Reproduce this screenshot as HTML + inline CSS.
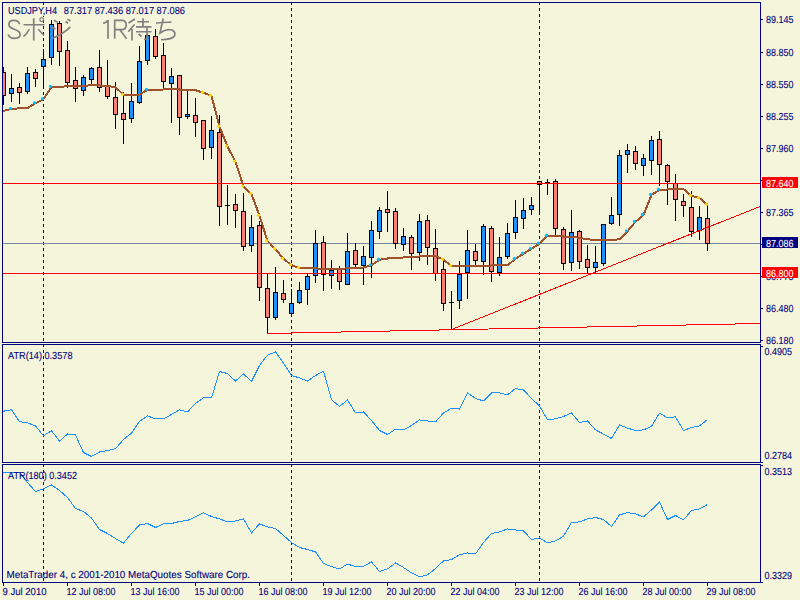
<!DOCTYPE html>
<html><head><meta charset="utf-8"><style>html,body{margin:0;padding:0;background:#F5F5DC;width:800px;height:600px;overflow:hidden}</style></head>
<body><svg width="800" height="600" viewBox="0 0 800 600" font-family="Liberation Sans, sans-serif" style="display:block">
<defs><clipPath id="cm"><rect x="3" y="3" width="757" height="339"/></clipPath><clipPath id="c2"><rect x="3" y="345" width="757" height="117"/></clipPath><clipPath id="c3"><rect x="3" y="465" width="757" height="117"/></clipPath></defs>
<rect x="0" y="0" width="800" height="600" fill="#F5F5DC"/>
<g shape-rendering="crispEdges">
<g fill="#000080"><rect x="43" y="2" width="1" height="3"/><rect x="43" y="8" width="1" height="3"/><rect x="43" y="14" width="1" height="3"/><rect x="43" y="20" width="1" height="3"/><rect x="43" y="26" width="1" height="3"/><rect x="43" y="32" width="1" height="3"/><rect x="43" y="38" width="1" height="3"/><rect x="43" y="44" width="1" height="3"/><rect x="43" y="50" width="1" height="3"/><rect x="43" y="56" width="1" height="3"/><rect x="43" y="62" width="1" height="3"/><rect x="43" y="68" width="1" height="3"/><rect x="43" y="74" width="1" height="3"/><rect x="43" y="80" width="1" height="3"/><rect x="43" y="86" width="1" height="3"/><rect x="43" y="92" width="1" height="3"/><rect x="43" y="98" width="1" height="3"/><rect x="43" y="104" width="1" height="3"/><rect x="43" y="110" width="1" height="3"/><rect x="43" y="116" width="1" height="3"/><rect x="43" y="122" width="1" height="3"/><rect x="43" y="128" width="1" height="3"/><rect x="43" y="134" width="1" height="3"/><rect x="43" y="140" width="1" height="3"/><rect x="43" y="146" width="1" height="3"/><rect x="43" y="152" width="1" height="3"/><rect x="43" y="158" width="1" height="3"/><rect x="43" y="164" width="1" height="3"/><rect x="43" y="170" width="1" height="3"/><rect x="43" y="176" width="1" height="3"/><rect x="43" y="182" width="1" height="3"/><rect x="43" y="188" width="1" height="3"/><rect x="43" y="194" width="1" height="3"/><rect x="43" y="200" width="1" height="3"/><rect x="43" y="206" width="1" height="3"/><rect x="43" y="212" width="1" height="3"/><rect x="43" y="218" width="1" height="3"/><rect x="43" y="224" width="1" height="3"/><rect x="43" y="230" width="1" height="3"/><rect x="43" y="236" width="1" height="3"/><rect x="43" y="242" width="1" height="3"/><rect x="43" y="248" width="1" height="3"/><rect x="43" y="254" width="1" height="3"/><rect x="43" y="260" width="1" height="3"/><rect x="43" y="266" width="1" height="3"/><rect x="43" y="272" width="1" height="3"/><rect x="43" y="278" width="1" height="3"/><rect x="43" y="284" width="1" height="3"/><rect x="43" y="290" width="1" height="3"/><rect x="43" y="296" width="1" height="3"/><rect x="43" y="302" width="1" height="3"/><rect x="43" y="308" width="1" height="3"/><rect x="43" y="314" width="1" height="3"/><rect x="43" y="320" width="1" height="3"/><rect x="43" y="326" width="1" height="3"/><rect x="43" y="332" width="1" height="3"/><rect x="43" y="338" width="1" height="3"/><rect x="43" y="344" width="1" height="3"/><rect x="43" y="350" width="1" height="3"/><rect x="43" y="356" width="1" height="3"/><rect x="43" y="362" width="1" height="3"/><rect x="43" y="368" width="1" height="3"/><rect x="43" y="374" width="1" height="3"/><rect x="43" y="380" width="1" height="3"/><rect x="43" y="386" width="1" height="3"/><rect x="43" y="392" width="1" height="3"/><rect x="43" y="398" width="1" height="3"/><rect x="43" y="404" width="1" height="3"/><rect x="43" y="410" width="1" height="3"/><rect x="43" y="416" width="1" height="3"/><rect x="43" y="422" width="1" height="3"/><rect x="43" y="428" width="1" height="3"/><rect x="43" y="434" width="1" height="3"/><rect x="43" y="440" width="1" height="3"/><rect x="43" y="446" width="1" height="3"/><rect x="43" y="452" width="1" height="3"/><rect x="43" y="458" width="1" height="3"/><rect x="43" y="464" width="1" height="3"/><rect x="43" y="470" width="1" height="3"/><rect x="43" y="476" width="1" height="3"/><rect x="43" y="482" width="1" height="3"/><rect x="43" y="488" width="1" height="3"/><rect x="43" y="494" width="1" height="3"/><rect x="43" y="500" width="1" height="3"/><rect x="43" y="506" width="1" height="3"/><rect x="43" y="512" width="1" height="3"/><rect x="43" y="518" width="1" height="3"/><rect x="43" y="524" width="1" height="3"/><rect x="43" y="530" width="1" height="3"/><rect x="43" y="536" width="1" height="3"/><rect x="43" y="542" width="1" height="3"/><rect x="43" y="548" width="1" height="3"/><rect x="43" y="554" width="1" height="3"/><rect x="43" y="560" width="1" height="3"/><rect x="43" y="566" width="1" height="3"/><rect x="43" y="572" width="1" height="3"/><rect x="43" y="578" width="1" height="3"/></g><g fill="#000080"><rect x="291" y="2" width="1" height="3"/><rect x="291" y="8" width="1" height="3"/><rect x="291" y="14" width="1" height="3"/><rect x="291" y="20" width="1" height="3"/><rect x="291" y="26" width="1" height="3"/><rect x="291" y="32" width="1" height="3"/><rect x="291" y="38" width="1" height="3"/><rect x="291" y="44" width="1" height="3"/><rect x="291" y="50" width="1" height="3"/><rect x="291" y="56" width="1" height="3"/><rect x="291" y="62" width="1" height="3"/><rect x="291" y="68" width="1" height="3"/><rect x="291" y="74" width="1" height="3"/><rect x="291" y="80" width="1" height="3"/><rect x="291" y="86" width="1" height="3"/><rect x="291" y="92" width="1" height="3"/><rect x="291" y="98" width="1" height="3"/><rect x="291" y="104" width="1" height="3"/><rect x="291" y="110" width="1" height="3"/><rect x="291" y="116" width="1" height="3"/><rect x="291" y="122" width="1" height="3"/><rect x="291" y="128" width="1" height="3"/><rect x="291" y="134" width="1" height="3"/><rect x="291" y="140" width="1" height="3"/><rect x="291" y="146" width="1" height="3"/><rect x="291" y="152" width="1" height="3"/><rect x="291" y="158" width="1" height="3"/><rect x="291" y="164" width="1" height="3"/><rect x="291" y="170" width="1" height="3"/><rect x="291" y="176" width="1" height="3"/><rect x="291" y="182" width="1" height="3"/><rect x="291" y="188" width="1" height="3"/><rect x="291" y="194" width="1" height="3"/><rect x="291" y="200" width="1" height="3"/><rect x="291" y="206" width="1" height="3"/><rect x="291" y="212" width="1" height="3"/><rect x="291" y="218" width="1" height="3"/><rect x="291" y="224" width="1" height="3"/><rect x="291" y="230" width="1" height="3"/><rect x="291" y="236" width="1" height="3"/><rect x="291" y="242" width="1" height="3"/><rect x="291" y="248" width="1" height="3"/><rect x="291" y="254" width="1" height="3"/><rect x="291" y="260" width="1" height="3"/><rect x="291" y="266" width="1" height="3"/><rect x="291" y="272" width="1" height="3"/><rect x="291" y="278" width="1" height="3"/><rect x="291" y="284" width="1" height="3"/><rect x="291" y="290" width="1" height="3"/><rect x="291" y="296" width="1" height="3"/><rect x="291" y="302" width="1" height="3"/><rect x="291" y="308" width="1" height="3"/><rect x="291" y="314" width="1" height="3"/><rect x="291" y="320" width="1" height="3"/><rect x="291" y="326" width="1" height="3"/><rect x="291" y="332" width="1" height="3"/><rect x="291" y="338" width="1" height="3"/><rect x="291" y="344" width="1" height="3"/><rect x="291" y="350" width="1" height="3"/><rect x="291" y="356" width="1" height="3"/><rect x="291" y="362" width="1" height="3"/><rect x="291" y="368" width="1" height="3"/><rect x="291" y="374" width="1" height="3"/><rect x="291" y="380" width="1" height="3"/><rect x="291" y="386" width="1" height="3"/><rect x="291" y="392" width="1" height="3"/><rect x="291" y="398" width="1" height="3"/><rect x="291" y="404" width="1" height="3"/><rect x="291" y="410" width="1" height="3"/><rect x="291" y="416" width="1" height="3"/><rect x="291" y="422" width="1" height="3"/><rect x="291" y="428" width="1" height="3"/><rect x="291" y="434" width="1" height="3"/><rect x="291" y="440" width="1" height="3"/><rect x="291" y="446" width="1" height="3"/><rect x="291" y="452" width="1" height="3"/><rect x="291" y="458" width="1" height="3"/><rect x="291" y="464" width="1" height="3"/><rect x="291" y="470" width="1" height="3"/><rect x="291" y="476" width="1" height="3"/><rect x="291" y="482" width="1" height="3"/><rect x="291" y="488" width="1" height="3"/><rect x="291" y="494" width="1" height="3"/><rect x="291" y="500" width="1" height="3"/><rect x="291" y="506" width="1" height="3"/><rect x="291" y="512" width="1" height="3"/><rect x="291" y="518" width="1" height="3"/><rect x="291" y="524" width="1" height="3"/><rect x="291" y="530" width="1" height="3"/><rect x="291" y="536" width="1" height="3"/><rect x="291" y="542" width="1" height="3"/><rect x="291" y="548" width="1" height="3"/><rect x="291" y="554" width="1" height="3"/><rect x="291" y="560" width="1" height="3"/><rect x="291" y="566" width="1" height="3"/><rect x="291" y="572" width="1" height="3"/><rect x="291" y="578" width="1" height="3"/></g><g fill="#000080"><rect x="539" y="2" width="1" height="3"/><rect x="539" y="8" width="1" height="3"/><rect x="539" y="14" width="1" height="3"/><rect x="539" y="20" width="1" height="3"/><rect x="539" y="26" width="1" height="3"/><rect x="539" y="32" width="1" height="3"/><rect x="539" y="38" width="1" height="3"/><rect x="539" y="44" width="1" height="3"/><rect x="539" y="50" width="1" height="3"/><rect x="539" y="56" width="1" height="3"/><rect x="539" y="62" width="1" height="3"/><rect x="539" y="68" width="1" height="3"/><rect x="539" y="74" width="1" height="3"/><rect x="539" y="80" width="1" height="3"/><rect x="539" y="86" width="1" height="3"/><rect x="539" y="92" width="1" height="3"/><rect x="539" y="98" width="1" height="3"/><rect x="539" y="104" width="1" height="3"/><rect x="539" y="110" width="1" height="3"/><rect x="539" y="116" width="1" height="3"/><rect x="539" y="122" width="1" height="3"/><rect x="539" y="128" width="1" height="3"/><rect x="539" y="134" width="1" height="3"/><rect x="539" y="140" width="1" height="3"/><rect x="539" y="146" width="1" height="3"/><rect x="539" y="152" width="1" height="3"/><rect x="539" y="158" width="1" height="3"/><rect x="539" y="164" width="1" height="3"/><rect x="539" y="170" width="1" height="3"/><rect x="539" y="176" width="1" height="3"/><rect x="539" y="182" width="1" height="3"/><rect x="539" y="188" width="1" height="3"/><rect x="539" y="194" width="1" height="3"/><rect x="539" y="200" width="1" height="3"/><rect x="539" y="206" width="1" height="3"/><rect x="539" y="212" width="1" height="3"/><rect x="539" y="218" width="1" height="3"/><rect x="539" y="224" width="1" height="3"/><rect x="539" y="230" width="1" height="3"/><rect x="539" y="236" width="1" height="3"/><rect x="539" y="242" width="1" height="3"/><rect x="539" y="248" width="1" height="3"/><rect x="539" y="254" width="1" height="3"/><rect x="539" y="260" width="1" height="3"/><rect x="539" y="266" width="1" height="3"/><rect x="539" y="272" width="1" height="3"/><rect x="539" y="278" width="1" height="3"/><rect x="539" y="284" width="1" height="3"/><rect x="539" y="290" width="1" height="3"/><rect x="539" y="296" width="1" height="3"/><rect x="539" y="302" width="1" height="3"/><rect x="539" y="308" width="1" height="3"/><rect x="539" y="314" width="1" height="3"/><rect x="539" y="320" width="1" height="3"/><rect x="539" y="326" width="1" height="3"/><rect x="539" y="332" width="1" height="3"/><rect x="539" y="338" width="1" height="3"/><rect x="539" y="344" width="1" height="3"/><rect x="539" y="350" width="1" height="3"/><rect x="539" y="356" width="1" height="3"/><rect x="539" y="362" width="1" height="3"/><rect x="539" y="368" width="1" height="3"/><rect x="539" y="374" width="1" height="3"/><rect x="539" y="380" width="1" height="3"/><rect x="539" y="386" width="1" height="3"/><rect x="539" y="392" width="1" height="3"/><rect x="539" y="398" width="1" height="3"/><rect x="539" y="404" width="1" height="3"/><rect x="539" y="410" width="1" height="3"/><rect x="539" y="416" width="1" height="3"/><rect x="539" y="422" width="1" height="3"/><rect x="539" y="428" width="1" height="3"/><rect x="539" y="434" width="1" height="3"/><rect x="539" y="440" width="1" height="3"/><rect x="539" y="446" width="1" height="3"/><rect x="539" y="452" width="1" height="3"/><rect x="539" y="458" width="1" height="3"/><rect x="539" y="464" width="1" height="3"/><rect x="539" y="470" width="1" height="3"/><rect x="539" y="476" width="1" height="3"/><rect x="539" y="482" width="1" height="3"/><rect x="539" y="488" width="1" height="3"/><rect x="539" y="494" width="1" height="3"/><rect x="539" y="500" width="1" height="3"/><rect x="539" y="506" width="1" height="3"/><rect x="539" y="512" width="1" height="3"/><rect x="539" y="518" width="1" height="3"/><rect x="539" y="524" width="1" height="3"/><rect x="539" y="530" width="1" height="3"/><rect x="539" y="536" width="1" height="3"/><rect x="539" y="542" width="1" height="3"/><rect x="539" y="548" width="1" height="3"/><rect x="539" y="554" width="1" height="3"/><rect x="539" y="560" width="1" height="3"/><rect x="539" y="566" width="1" height="3"/><rect x="539" y="572" width="1" height="3"/><rect x="539" y="578" width="1" height="3"/></g>
</g>
<g shape-rendering="crispEdges" clip-path="url(#cm)">
<rect x="3" y="243" width="757" height="1" fill="#778899"/>
<rect x="3" y="67" width="1" height="38" fill="#000"/><rect x="1" y="72" width="5" height="24" fill="#000"/><rect x="2" y="73" width="3" height="22" fill="#FA8072"/><rect x="11" y="74" width="1" height="28" fill="#000"/><rect x="9" y="88" width="5" height="6" fill="#000"/><rect x="10" y="89" width="3" height="4" fill="#1E90FF"/><rect x="19" y="83" width="1" height="21" fill="#000"/><rect x="17" y="87" width="5" height="6" fill="#000"/><rect x="18" y="88" width="3" height="4" fill="#FA8072"/><rect x="27" y="67" width="1" height="27" fill="#000"/><rect x="25" y="73" width="5" height="19" fill="#000"/><rect x="26" y="74" width="3" height="17" fill="#1E90FF"/><rect x="35" y="69" width="1" height="18" fill="#000"/><rect x="33" y="72" width="5" height="7" fill="#000"/><rect x="34" y="73" width="3" height="5" fill="#FA8072"/><rect x="43" y="49" width="1" height="40" fill="#000"/><rect x="41" y="59" width="5" height="8" fill="#000"/><rect x="42" y="60" width="3" height="6" fill="#1E90FF"/><rect x="51" y="20" width="1" height="45" fill="#000"/><rect x="49" y="24" width="5" height="34" fill="#000"/><rect x="50" y="25" width="3" height="32" fill="#1E90FF"/><rect x="59" y="21" width="1" height="45" fill="#000"/><rect x="57" y="23" width="5" height="29" fill="#000"/><rect x="58" y="24" width="3" height="27" fill="#FA8072"/><rect x="67" y="41" width="1" height="47" fill="#000"/><rect x="65" y="50" width="5" height="33" fill="#000"/><rect x="66" y="51" width="3" height="31" fill="#FA8072"/><rect x="75" y="67" width="1" height="35" fill="#000"/><rect x="73" y="80" width="5" height="9" fill="#000"/><rect x="74" y="81" width="3" height="7" fill="#FA8072"/><rect x="83" y="75" width="1" height="21" fill="#000"/><rect x="81" y="77" width="5" height="14" fill="#000"/><rect x="82" y="78" width="3" height="12" fill="#1E90FF"/><rect x="91" y="67" width="1" height="17" fill="#000"/><rect x="89" y="68" width="5" height="12" fill="#000"/><rect x="90" y="69" width="3" height="10" fill="#1E90FF"/><rect x="99" y="50" width="1" height="42" fill="#000"/><rect x="97" y="67" width="5" height="21" fill="#000"/><rect x="98" y="68" width="3" height="19" fill="#FA8072"/><rect x="107" y="60" width="1" height="39" fill="#000"/><rect x="105" y="86" width="5" height="11" fill="#000"/><rect x="106" y="87" width="3" height="9" fill="#FA8072"/><rect x="115" y="82" width="1" height="47" fill="#000"/><rect x="113" y="97" width="5" height="18" fill="#000"/><rect x="114" y="98" width="3" height="16" fill="#FA8072"/><rect x="123" y="92" width="1" height="52" fill="#000"/><rect x="121" y="113" width="5" height="7" fill="#000"/><rect x="122" y="114" width="3" height="5" fill="#FA8072"/><rect x="131" y="83" width="1" height="40" fill="#000"/><rect x="129" y="101" width="5" height="18" fill="#000"/><rect x="130" y="102" width="3" height="16" fill="#1E90FF"/><rect x="139" y="46" width="1" height="58" fill="#000"/><rect x="137" y="61" width="5" height="42" fill="#000"/><rect x="138" y="62" width="3" height="40" fill="#1E90FF"/><rect x="147" y="34" width="1" height="31" fill="#000"/><rect x="145" y="35" width="5" height="26" fill="#000"/><rect x="146" y="36" width="3" height="24" fill="#1E90FF"/><rect x="155" y="29" width="1" height="30" fill="#000"/><rect x="153" y="36" width="5" height="21" fill="#000"/><rect x="154" y="37" width="3" height="19" fill="#FA8072"/><rect x="163" y="43" width="1" height="45" fill="#000"/><rect x="161" y="55" width="5" height="27" fill="#000"/><rect x="162" y="56" width="3" height="25" fill="#FA8072"/><rect x="171" y="68" width="1" height="55" fill="#000"/><rect x="169" y="76" width="5" height="8" fill="#000"/><rect x="170" y="77" width="3" height="6" fill="#1E90FF"/><rect x="179" y="75" width="1" height="60" fill="#000"/><rect x="177" y="75" width="5" height="43" fill="#000"/><rect x="178" y="76" width="3" height="41" fill="#FA8072"/><rect x="187" y="91" width="1" height="28" fill="#000"/><rect x="185" y="114" width="5" height="3" fill="#000"/><rect x="186" y="115" width="3" height="1" fill="#1E90FF"/><rect x="195" y="98" width="1" height="39" fill="#000"/><rect x="193" y="115" width="5" height="8" fill="#000"/><rect x="194" y="116" width="3" height="6" fill="#FA8072"/><rect x="203" y="120" width="1" height="40" fill="#000"/><rect x="201" y="120" width="5" height="29" fill="#000"/><rect x="202" y="121" width="3" height="27" fill="#FA8072"/><rect x="211" y="116" width="1" height="43" fill="#000"/><rect x="209" y="130" width="5" height="18" fill="#000"/><rect x="210" y="131" width="3" height="16" fill="#1E90FF"/><rect x="219" y="115" width="1" height="111" fill="#000"/><rect x="217" y="132" width="5" height="75" fill="#000"/><rect x="218" y="133" width="3" height="73" fill="#FA8072"/><rect x="227" y="185" width="1" height="40" fill="#000"/><rect x="225" y="205" width="5" height="1" fill="#000"/><rect x="235" y="194" width="1" height="34" fill="#000"/><rect x="233" y="204" width="5" height="7" fill="#000"/><rect x="234" y="205" width="3" height="5" fill="#FA8072"/><rect x="243" y="193" width="1" height="58" fill="#000"/><rect x="241" y="211" width="5" height="36" fill="#000"/><rect x="242" y="212" width="3" height="34" fill="#FA8072"/><rect x="251" y="215" width="1" height="37" fill="#000"/><rect x="249" y="227" width="5" height="19" fill="#000"/><rect x="250" y="228" width="3" height="17" fill="#1E90FF"/><rect x="259" y="221" width="1" height="80" fill="#000"/><rect x="257" y="225" width="5" height="63" fill="#000"/><rect x="258" y="226" width="3" height="61" fill="#FA8072"/><rect x="267" y="274" width="1" height="60" fill="#000"/><rect x="265" y="288" width="5" height="30" fill="#000"/><rect x="266" y="289" width="3" height="28" fill="#FA8072"/><rect x="275" y="267" width="1" height="53" fill="#000"/><rect x="273" y="292" width="5" height="26" fill="#000"/><rect x="274" y="293" width="3" height="24" fill="#1E90FF"/><rect x="283" y="280" width="1" height="23" fill="#000"/><rect x="281" y="293" width="5" height="7" fill="#000"/><rect x="282" y="294" width="3" height="5" fill="#FA8072"/><rect x="291" y="289" width="1" height="26" fill="#000"/><rect x="289" y="303" width="5" height="11" fill="#000"/><rect x="290" y="304" width="3" height="9" fill="#1E90FF"/><rect x="299" y="282" width="1" height="22" fill="#000"/><rect x="297" y="290" width="5" height="13" fill="#000"/><rect x="298" y="291" width="3" height="11" fill="#1E90FF"/><rect x="307" y="274" width="1" height="31" fill="#000"/><rect x="305" y="276" width="5" height="14" fill="#000"/><rect x="306" y="277" width="3" height="12" fill="#1E90FF"/><rect x="315" y="230" width="1" height="53" fill="#000"/><rect x="313" y="243" width="5" height="33" fill="#000"/><rect x="314" y="244" width="3" height="31" fill="#1E90FF"/><rect x="323" y="236" width="1" height="55" fill="#000"/><rect x="321" y="242" width="5" height="33" fill="#000"/><rect x="322" y="243" width="3" height="31" fill="#FA8072"/><rect x="331" y="260" width="1" height="29" fill="#000"/><rect x="329" y="270" width="5" height="6" fill="#000"/><rect x="330" y="271" width="3" height="4" fill="#1E90FF"/><rect x="339" y="266" width="1" height="24" fill="#000"/><rect x="337" y="269" width="5" height="13" fill="#000"/><rect x="338" y="270" width="3" height="11" fill="#FA8072"/><rect x="347" y="233" width="1" height="52" fill="#000"/><rect x="345" y="251" width="5" height="34" fill="#000"/><rect x="346" y="252" width="3" height="32" fill="#1E90FF"/><rect x="355" y="243" width="1" height="24" fill="#000"/><rect x="353" y="250" width="5" height="15" fill="#000"/><rect x="354" y="251" width="3" height="13" fill="#FA8072"/><rect x="363" y="246" width="1" height="39" fill="#000"/><rect x="361" y="256" width="5" height="10" fill="#000"/><rect x="362" y="257" width="3" height="8" fill="#1E90FF"/><rect x="371" y="221" width="1" height="57" fill="#000"/><rect x="369" y="230" width="5" height="28" fill="#000"/><rect x="370" y="231" width="3" height="26" fill="#1E90FF"/><rect x="379" y="207" width="1" height="32" fill="#000"/><rect x="377" y="210" width="5" height="22" fill="#000"/><rect x="378" y="211" width="3" height="20" fill="#1E90FF"/><rect x="387" y="191" width="1" height="41" fill="#000"/><rect x="385" y="209" width="5" height="4" fill="#000"/><rect x="386" y="210" width="3" height="2" fill="#FA8072"/><rect x="395" y="208" width="1" height="41" fill="#000"/><rect x="393" y="211" width="5" height="33" fill="#000"/><rect x="394" y="212" width="3" height="31" fill="#FA8072"/><rect x="403" y="228" width="1" height="23" fill="#000"/><rect x="401" y="236" width="5" height="9" fill="#000"/><rect x="402" y="237" width="3" height="7" fill="#1E90FF"/><rect x="411" y="235" width="1" height="35" fill="#000"/><rect x="409" y="237" width="5" height="17" fill="#000"/><rect x="410" y="238" width="3" height="15" fill="#FA8072"/><rect x="419" y="214" width="1" height="47" fill="#000"/><rect x="417" y="221" width="5" height="32" fill="#000"/><rect x="418" y="222" width="3" height="30" fill="#1E90FF"/><rect x="427" y="215" width="1" height="50" fill="#000"/><rect x="425" y="220" width="5" height="28" fill="#000"/><rect x="426" y="221" width="3" height="26" fill="#FA8072"/><rect x="435" y="229" width="1" height="52" fill="#000"/><rect x="433" y="248" width="5" height="26" fill="#000"/><rect x="434" y="249" width="3" height="24" fill="#FA8072"/><rect x="443" y="258" width="1" height="53" fill="#000"/><rect x="441" y="269" width="5" height="35" fill="#000"/><rect x="442" y="270" width="3" height="33" fill="#FA8072"/><rect x="451" y="291" width="1" height="39" fill="#000"/><rect x="449" y="302" width="5" height="1" fill="#000"/><rect x="459" y="261" width="1" height="48" fill="#000"/><rect x="457" y="274" width="5" height="27" fill="#000"/><rect x="458" y="275" width="3" height="25" fill="#1E90FF"/><rect x="467" y="230" width="1" height="69" fill="#000"/><rect x="465" y="250" width="5" height="23" fill="#000"/><rect x="466" y="251" width="3" height="21" fill="#1E90FF"/><rect x="475" y="244" width="1" height="21" fill="#000"/><rect x="473" y="251" width="5" height="10" fill="#000"/><rect x="474" y="252" width="3" height="8" fill="#FA8072"/><rect x="483" y="224" width="1" height="51" fill="#000"/><rect x="481" y="226" width="5" height="36" fill="#000"/><rect x="482" y="227" width="3" height="34" fill="#1E90FF"/><rect x="491" y="226" width="1" height="56" fill="#000"/><rect x="489" y="228" width="5" height="44" fill="#000"/><rect x="490" y="229" width="3" height="42" fill="#FA8072"/><rect x="499" y="237" width="1" height="39" fill="#000"/><rect x="497" y="257" width="5" height="16" fill="#000"/><rect x="498" y="258" width="3" height="14" fill="#1E90FF"/><rect x="507" y="223" width="1" height="36" fill="#000"/><rect x="505" y="233" width="5" height="24" fill="#000"/><rect x="506" y="234" width="3" height="22" fill="#1E90FF"/><rect x="515" y="200" width="1" height="39" fill="#000"/><rect x="513" y="217" width="5" height="16" fill="#000"/><rect x="514" y="218" width="3" height="14" fill="#1E90FF"/><rect x="523" y="198" width="1" height="31" fill="#000"/><rect x="521" y="210" width="5" height="9" fill="#000"/><rect x="522" y="211" width="3" height="7" fill="#1E90FF"/><rect x="531" y="197" width="1" height="18" fill="#000"/><rect x="529" y="205" width="5" height="5" fill="#000"/><rect x="530" y="206" width="3" height="3" fill="#1E90FF"/><rect x="539" y="181" width="1" height="32" fill="#000"/><rect x="537" y="181" width="5" height="4" fill="#000"/><rect x="538" y="182" width="3" height="2" fill="#FA8072"/><rect x="547" y="179" width="1" height="16" fill="#000"/><rect x="545" y="182" width="5" height="1" fill="#000"/><rect x="555" y="179" width="1" height="56" fill="#000"/><rect x="553" y="181" width="5" height="48" fill="#000"/><rect x="554" y="182" width="3" height="46" fill="#FA8072"/><rect x="563" y="227" width="1" height="43" fill="#000"/><rect x="561" y="229" width="5" height="35" fill="#000"/><rect x="562" y="230" width="3" height="33" fill="#FA8072"/><rect x="571" y="210" width="1" height="61" fill="#000"/><rect x="569" y="232" width="5" height="31" fill="#000"/><rect x="570" y="233" width="3" height="29" fill="#1E90FF"/><rect x="579" y="230" width="1" height="39" fill="#000"/><rect x="577" y="231" width="5" height="31" fill="#000"/><rect x="578" y="232" width="3" height="29" fill="#FA8072"/><rect x="587" y="245" width="1" height="29" fill="#000"/><rect x="585" y="259" width="5" height="9" fill="#000"/><rect x="586" y="260" width="3" height="7" fill="#FA8072"/><rect x="595" y="246" width="1" height="27" fill="#000"/><rect x="593" y="262" width="5" height="6" fill="#000"/><rect x="594" y="263" width="3" height="4" fill="#1E90FF"/><rect x="603" y="224" width="1" height="42" fill="#000"/><rect x="601" y="224" width="5" height="40" fill="#000"/><rect x="602" y="225" width="3" height="38" fill="#1E90FF"/><rect x="611" y="197" width="1" height="28" fill="#000"/><rect x="609" y="215" width="5" height="9" fill="#000"/><rect x="610" y="216" width="3" height="7" fill="#1E90FF"/><rect x="619" y="150" width="1" height="76" fill="#000"/><rect x="617" y="155" width="5" height="60" fill="#000"/><rect x="618" y="156" width="3" height="58" fill="#1E90FF"/><rect x="627" y="144" width="1" height="29" fill="#000"/><rect x="625" y="150" width="5" height="5" fill="#000"/><rect x="626" y="151" width="3" height="3" fill="#1E90FF"/><rect x="635" y="146" width="1" height="24" fill="#000"/><rect x="633" y="151" width="5" height="13" fill="#000"/><rect x="634" y="152" width="3" height="11" fill="#FA8072"/><rect x="643" y="154" width="1" height="22" fill="#000"/><rect x="641" y="158" width="5" height="8" fill="#000"/><rect x="642" y="159" width="3" height="6" fill="#1E90FF"/><rect x="651" y="136" width="1" height="39" fill="#000"/><rect x="649" y="140" width="5" height="21" fill="#000"/><rect x="650" y="141" width="3" height="19" fill="#1E90FF"/><rect x="659" y="131" width="1" height="55" fill="#000"/><rect x="657" y="139" width="5" height="26" fill="#000"/><rect x="658" y="140" width="3" height="24" fill="#FA8072"/><rect x="667" y="164" width="1" height="41" fill="#000"/><rect x="665" y="165" width="5" height="17" fill="#000"/><rect x="666" y="166" width="3" height="15" fill="#FA8072"/><rect x="675" y="174" width="1" height="47" fill="#000"/><rect x="673" y="183" width="5" height="17" fill="#000"/><rect x="674" y="184" width="3" height="15" fill="#FA8072"/><rect x="683" y="194" width="1" height="23" fill="#000"/><rect x="681" y="201" width="5" height="5" fill="#000"/><rect x="682" y="202" width="3" height="3" fill="#FA8072"/><rect x="691" y="191" width="1" height="46" fill="#000"/><rect x="689" y="207" width="5" height="25" fill="#000"/><rect x="690" y="208" width="3" height="23" fill="#FA8072"/><rect x="699" y="206" width="1" height="34" fill="#000"/><rect x="697" y="217" width="5" height="14" fill="#000"/><rect x="698" y="218" width="3" height="12" fill="#1E90FF"/><rect x="707" y="205" width="1" height="46" fill="#000"/><rect x="705" y="218" width="5" height="26" fill="#000"/><rect x="706" y="219" width="3" height="24" fill="#FA8072"/>
<rect x="3" y="183" width="757" height="1" fill="#FF0000"/>
<rect x="3" y="273" width="757" height="1" fill="#FF0000"/>
<path d="M267.5 333.5 L760 323.5 M451.5 329.5 L760 206.5" stroke="#FF0000" stroke-width="1" fill="none"/>
<polyline points="2.5,111.5 3.5,111.0 11.5,108.8 19.5,108.4 27.5,108.2 35.5,103.2 43.5,99.2 51.5,86.8 59.5,86.8 67.5,86.3 75.5,86.1 83.5,86.0 91.5,85.2 99.5,85.5 107.5,86.0 115.5,87.2 123.5,94.8 131.5,95.0 139.5,94.8 147.5,89.8 155.5,90.0 163.5,89.5 171.5,89.2 179.5,89.5 187.5,89.5 195.5,90.2 203.5,92.8 211.5,95.8 219.5,126.7 227.5,146.5 235.5,161.8 243.5,186.5 251.5,194.0 259.5,215.8 267.5,241.0 275.5,249.2 283.5,258.8 291.5,265.2 299.5,268.0 307.5,268.1 315.5,268.2 323.5,269.5 331.5,269.3 339.5,269.1 347.5,268.2 355.5,267.9 363.5,267.5 371.5,265.2 379.5,259.7 387.5,258.5 395.5,258.0 403.5,257.5 411.5,257.0 419.5,256.5 427.5,256.2 435.5,256.2 443.5,259.7 451.5,266.0 459.5,266.5 467.5,266.4 475.5,266.0 483.5,265.8 491.5,265.5 499.5,265.4 507.5,265.2 515.5,258.8 523.5,253.7 531.5,248.8 539.5,243.7 547.5,235.8 555.5,236.0 563.5,236.5 571.5,236.5 579.5,238.0 587.5,239.2 595.5,240.2 603.5,240.5 611.5,240.2 619.5,239.2 627.5,231.2 635.5,221.8 643.5,214.9 651.5,194.9 659.5,189.8 667.5,189.5 675.5,189.1 683.5,189.0 691.5,195.8 699.5,198.0 707.5,204.8" fill="none" stroke="#A0522D" stroke-width="2"/>
</g>
<g clip-path="url(#cm)"><circle cx="122.5" cy="94.25" r="1.6" fill="#FFD700"/><circle cx="202.5" cy="92.3" r="1.6" fill="#FFD700"/><circle cx="210.5" cy="95.3" r="1.6" fill="#FFD700"/><circle cx="218.5" cy="126.2" r="1.6" fill="#FFD700"/><circle cx="226.5" cy="146.0" r="1.6" fill="#FFD700"/><circle cx="234.5" cy="161.25" r="1.6" fill="#FFD700"/><circle cx="242.5" cy="186.0" r="1.6" fill="#FFD700"/><circle cx="250.5" cy="193.5" r="1.6" fill="#FFD700"/><circle cx="258.5" cy="215.25" r="1.6" fill="#FFD700"/><circle cx="266.5" cy="240.5" r="1.6" fill="#FFD700"/><circle cx="274.5" cy="248.7" r="1.6" fill="#FFD700"/><circle cx="282.5" cy="258.3" r="1.6" fill="#FFD700"/><circle cx="290.5" cy="264.75" r="1.6" fill="#FFD700"/><circle cx="298.5" cy="267.5" r="1.6" fill="#FFD700"/><circle cx="442.5" cy="259.2" r="1.6" fill="#FFD700"/><circle cx="450.5" cy="265.5" r="1.6" fill="#FFD700"/><circle cx="690.5" cy="195.25" r="1.6" fill="#FFD700"/><circle cx="698.5" cy="197.5" r="1.6" fill="#FFD700"/><circle cx="706.5" cy="204.25" r="1.6" fill="#FFD700"/><circle cx="10.5" cy="108.3" r="1.6" fill="#00BFFF"/><circle cx="34.5" cy="102.75" r="1.6" fill="#00BFFF"/><circle cx="42.5" cy="98.7" r="1.6" fill="#00BFFF"/><circle cx="50.5" cy="86.25" r="1.6" fill="#00BFFF"/><circle cx="146.5" cy="89.3" r="1.6" fill="#00BFFF"/><circle cx="370.5" cy="264.75" r="1.6" fill="#00BFFF"/><circle cx="378.5" cy="259.2" r="1.6" fill="#00BFFF"/><circle cx="514.5" cy="258.3" r="1.6" fill="#00BFFF"/><circle cx="522.5" cy="253.2" r="1.6" fill="#00BFFF"/><circle cx="530.5" cy="248.25" r="1.6" fill="#00BFFF"/><circle cx="538.5" cy="243.2" r="1.6" fill="#00BFFF"/><circle cx="546.5" cy="235.25" r="1.6" fill="#00BFFF"/><circle cx="626.5" cy="230.75" r="1.6" fill="#00BFFF"/><circle cx="634.5" cy="221.3" r="1.6" fill="#00BFFF"/><circle cx="642.5" cy="214.4" r="1.6" fill="#00BFFF"/><circle cx="650.5" cy="194.4" r="1.6" fill="#00BFFF"/><circle cx="658.5" cy="189.3" r="1.6" fill="#00BFFF"/></g>
<g shape-rendering="crispEdges">
<polyline clip-path="url(#c2)" points="2.5,411.0 3.5,411.2 11.5,409.7 19.5,421.7 27.5,422.8 35.5,426.0 43.5,435.8 51.5,430.7 59.5,441.2 67.5,434.0 75.5,435.0 83.5,452.5 91.5,456.5 99.5,452.0 107.5,450.5 115.5,448.7 123.5,439.5 131.5,433.1 139.5,421.5 147.5,415.9 155.5,418.9 163.5,418.9 171.5,414.5 179.5,409.9 187.5,411.9 195.5,403.5 203.5,397.9 211.5,397.9 219.5,371.5 227.5,373.5 235.5,381.1 243.5,373.9 251.5,381.5 259.5,365.5 267.5,355.1 275.5,351.9 283.5,363.1 291.5,375.5 299.5,377.9 307.5,381.1 315.5,375.5 323.5,371.1 331.5,399.7 339.5,406.5 347.5,399.9 355.5,412.9 363.5,411.9 371.5,420.5 379.5,430.5 387.5,434.5 395.5,429.1 403.5,429.9 411.5,425.5 419.5,419.9 427.5,420.9 435.5,421.9 443.5,413.0 451.5,408.2 459.5,409.1 467.5,392.9 475.5,398.5 483.5,400.9 491.5,392.9 499.5,392.9 507.5,394.9 515.5,388.5 523.5,389.9 531.5,398.5 539.5,405.9 547.5,419.9 555.5,418.8 563.5,416.5 571.5,412.9 579.5,422.5 587.5,420.9 595.5,429.9 603.5,434.1 611.5,438.5 619.5,424.9 627.5,428.1 635.5,430.5 643.5,429.9 651.5,426.5 659.5,413.1 667.5,417.7 675.5,416.9 683.5,430.5 691.5,427.5 699.5,425.9 707.5,419.5" fill="none" stroke="#1E90FF" stroke-width="1"/>
<polyline clip-path="url(#c3)" points="2.5,472.5 3.5,472.5 11.5,472.5 19.5,472.5 27.5,482.5 35.5,491.5 43.5,488.9 51.5,484.9 59.5,490.5 67.5,497.5 75.5,508.5 83.5,511.5 91.5,518.1 99.5,529.5 107.5,533.5 115.5,538.5 123.5,543.1 131.5,533.5 139.5,524.9 147.5,523.5 155.5,527.5 163.5,523.9 171.5,523.5 179.5,521.5 187.5,520.5 195.5,516.9 203.5,512.9 211.5,516.5 219.5,518.9 227.5,521.9 235.5,520.9 243.5,518.9 251.5,532.9 259.5,523.9 267.5,526.9 275.5,528.5 283.5,535.5 291.5,542.5 299.5,547.5 307.5,549.5 315.5,551.9 323.5,563.5 331.5,566.7 339.5,568.9 347.5,564.1 355.5,566.5 363.5,566.5 371.5,561.9 379.5,571.5 387.5,568.9 395.5,562.9 403.5,567.5 411.5,572.9 419.5,576.9 427.5,574.9 435.5,568.5 443.5,560.9 451.5,559.7 459.5,554.9 467.5,552.9 475.5,553.9 483.5,542.5 491.5,533.5 499.5,531.9 507.5,528.9 515.5,529.9 523.5,530.9 531.5,539.5 539.5,537.9 547.5,542.9 555.5,541.0 563.5,536.1 571.5,522.5 579.5,521.9 587.5,518.9 595.5,517.5 603.5,519.5 611.5,526.5 619.5,514.9 627.5,512.5 635.5,513.9 643.5,516.9 651.5,509.9 659.5,501.9 667.5,519.5 675.5,515.5 683.5,519.9 691.5,510.5 699.5,508.9 707.5,504.5" fill="none" stroke="#1E90FF" stroke-width="1"/>
<rect x="2" y="2" width="759" height="1" fill="#000080"/>
<rect x="2" y="342" width="759" height="1" fill="#000080"/>
<rect x="2" y="344" width="759" height="1" fill="#000080"/>
<rect x="2" y="462" width="759" height="1" fill="#000080"/>
<rect x="2" y="464" width="759" height="1" fill="#000080"/>
<rect x="2" y="582" width="759" height="1" fill="#000080"/>
<rect x="2" y="2" width="1" height="341" fill="#000080"/>
<rect x="760" y="2" width="1" height="341" fill="#000080"/>
<rect x="2" y="344" width="1" height="119" fill="#000080"/>
<rect x="760" y="344" width="1" height="119" fill="#000080"/>
<rect x="2" y="464" width="1" height="119" fill="#000080"/>
<rect x="760" y="464" width="1" height="119" fill="#000080"/>
<rect x="761" y="19" width="2" height="1" fill="#000080"/><text x="766" y="23" font-size="10.2" fill="#000080" textLength="27.5" lengthAdjust="spacingAndGlyphs" text-rendering="geometricPrecision" stroke="#000080" stroke-width="0.1" >89.145</text><rect x="761" y="52" width="2" height="1" fill="#000080"/><text x="766" y="56" font-size="10.2" fill="#000080" textLength="27.5" lengthAdjust="spacingAndGlyphs" text-rendering="geometricPrecision" stroke="#000080" stroke-width="0.1" >88.850</text><rect x="761" y="84" width="2" height="1" fill="#000080"/><text x="766" y="88" font-size="10.2" fill="#000080" textLength="27.5" lengthAdjust="spacingAndGlyphs" text-rendering="geometricPrecision" stroke="#000080" stroke-width="0.1" >88.550</text><rect x="761" y="116" width="2" height="1" fill="#000080"/><text x="766" y="120" font-size="10.2" fill="#000080" textLength="27.5" lengthAdjust="spacingAndGlyphs" text-rendering="geometricPrecision" stroke="#000080" stroke-width="0.1" >88.255</text><rect x="761" y="148" width="2" height="1" fill="#000080"/><text x="766" y="152" font-size="10.2" fill="#000080" textLength="27.5" lengthAdjust="spacingAndGlyphs" text-rendering="geometricPrecision" stroke="#000080" stroke-width="0.1" >87.960</text><rect x="761" y="180" width="2" height="1" fill="#000080"/><text x="766" y="184" font-size="10.2" fill="#000080" textLength="27.5" lengthAdjust="spacingAndGlyphs" text-rendering="geometricPrecision" stroke="#000080" stroke-width="0.1" >87.665</text><rect x="761" y="212" width="2" height="1" fill="#000080"/><text x="766" y="216" font-size="10.2" fill="#000080" textLength="27.5" lengthAdjust="spacingAndGlyphs" text-rendering="geometricPrecision" stroke="#000080" stroke-width="0.1" >87.365</text><rect x="761" y="244" width="2" height="1" fill="#000080"/><text x="766" y="248" font-size="10.2" fill="#000080" textLength="27.5" lengthAdjust="spacingAndGlyphs" text-rendering="geometricPrecision" stroke="#000080" stroke-width="0.1" >87.070</text><rect x="761" y="276" width="2" height="1" fill="#000080"/><text x="766" y="280" font-size="10.2" fill="#000080" textLength="27.5" lengthAdjust="spacingAndGlyphs" text-rendering="geometricPrecision" stroke="#000080" stroke-width="0.1" >86.775</text><rect x="761" y="308" width="2" height="1" fill="#000080"/><text x="766" y="312" font-size="10.2" fill="#000080" textLength="27.5" lengthAdjust="spacingAndGlyphs" text-rendering="geometricPrecision" stroke="#000080" stroke-width="0.1" >86.480</text><rect x="761" y="340" width="2" height="1" fill="#000080"/><text x="766" y="344" font-size="10.2" fill="#000080" textLength="27.5" lengthAdjust="spacingAndGlyphs" text-rendering="geometricPrecision" stroke="#000080" stroke-width="0.1" >86.180</text><rect x="3" y="583" width="1" height="3" fill="#000080"/><text x="2.5" y="595" font-size="10.2" fill="#000080" textLength="44" lengthAdjust="spacingAndGlyphs" text-rendering="geometricPrecision" stroke="#000080" stroke-width="0.1" >9 Jul 2010</text><rect x="67" y="583" width="1" height="3" fill="#000080"/><text x="66.5" y="595" font-size="10.2" fill="#000080" textLength="49" lengthAdjust="spacingAndGlyphs" text-rendering="geometricPrecision" stroke="#000080" stroke-width="0.1" >12 Jul 08:00</text><rect x="131" y="583" width="1" height="3" fill="#000080"/><text x="130.5" y="595" font-size="10.2" fill="#000080" textLength="49" lengthAdjust="spacingAndGlyphs" text-rendering="geometricPrecision" stroke="#000080" stroke-width="0.1" >13 Jul 16:00</text><rect x="195" y="583" width="1" height="3" fill="#000080"/><text x="194.5" y="595" font-size="10.2" fill="#000080" textLength="49" lengthAdjust="spacingAndGlyphs" text-rendering="geometricPrecision" stroke="#000080" stroke-width="0.1" >15 Jul 00:00</text><rect x="259" y="583" width="1" height="3" fill="#000080"/><text x="258.5" y="595" font-size="10.2" fill="#000080" textLength="49" lengthAdjust="spacingAndGlyphs" text-rendering="geometricPrecision" stroke="#000080" stroke-width="0.1" >16 Jul 08:00</text><rect x="323" y="583" width="1" height="3" fill="#000080"/><text x="322.5" y="595" font-size="10.2" fill="#000080" textLength="49" lengthAdjust="spacingAndGlyphs" text-rendering="geometricPrecision" stroke="#000080" stroke-width="0.1" >19 Jul 12:00</text><rect x="387" y="583" width="1" height="3" fill="#000080"/><text x="386.5" y="595" font-size="10.2" fill="#000080" textLength="49" lengthAdjust="spacingAndGlyphs" text-rendering="geometricPrecision" stroke="#000080" stroke-width="0.1" >20 Jul 20:00</text><rect x="451" y="583" width="1" height="3" fill="#000080"/><text x="450.5" y="595" font-size="10.2" fill="#000080" textLength="49" lengthAdjust="spacingAndGlyphs" text-rendering="geometricPrecision" stroke="#000080" stroke-width="0.1" >22 Jul 04:00</text><rect x="515" y="583" width="1" height="3" fill="#000080"/><text x="514.5" y="595" font-size="10.2" fill="#000080" textLength="49" lengthAdjust="spacingAndGlyphs" text-rendering="geometricPrecision" stroke="#000080" stroke-width="0.1" >23 Jul 12:00</text><rect x="579" y="583" width="1" height="3" fill="#000080"/><text x="578.5" y="595" font-size="10.2" fill="#000080" textLength="49" lengthAdjust="spacingAndGlyphs" text-rendering="geometricPrecision" stroke="#000080" stroke-width="0.1" >26 Jul 16:00</text><rect x="643" y="583" width="1" height="3" fill="#000080"/><text x="642.5" y="595" font-size="10.2" fill="#000080" textLength="49" lengthAdjust="spacingAndGlyphs" text-rendering="geometricPrecision" stroke="#000080" stroke-width="0.1" >28 Jul 00:00</text><rect x="707" y="583" width="1" height="3" fill="#000080"/><text x="706.5" y="595" font-size="10.2" fill="#000080" textLength="49" lengthAdjust="spacingAndGlyphs" text-rendering="geometricPrecision" stroke="#000080" stroke-width="0.1" >29 Jul 08:00</text><rect x="761" y="346" width="2" height="1" fill="#000080"/><text x="764.5" y="355" font-size="10.2" fill="#000080" textLength="27.5" lengthAdjust="spacingAndGlyphs" text-rendering="geometricPrecision" stroke="#000080" stroke-width="0.1" >0.4905</text><rect x="761" y="462" width="2" height="1" fill="#000080"/><text x="764.5" y="459" font-size="10.2" fill="#000080" textLength="27.5" lengthAdjust="spacingAndGlyphs" text-rendering="geometricPrecision" stroke="#000080" stroke-width="0.1" >0.2784</text><rect x="761" y="465" width="2" height="1" fill="#000080"/><text x="764.5" y="475" font-size="10.2" fill="#000080" textLength="27.5" lengthAdjust="spacingAndGlyphs" text-rendering="geometricPrecision" stroke="#000080" stroke-width="0.1" >0.3513</text><rect x="761" y="582" width="2" height="1" fill="#000080"/><text x="764.5" y="579" font-size="10.2" fill="#000080" textLength="27.5" lengthAdjust="spacingAndGlyphs" text-rendering="geometricPrecision" stroke="#000080" stroke-width="0.1" >0.3329</text>
<rect x="762" y="177" width="36" height="11" fill="#FF0000"/><text x="766" y="186.5" font-size="10.2" fill="#FFFFFF" textLength="27.5" lengthAdjust="spacingAndGlyphs" text-rendering="geometricPrecision" stroke="#FFFFFF" stroke-width="0.1" >87.640</text><rect x="762" y="237" width="36" height="11" fill="#000080"/><text x="766" y="246.5" font-size="10.2" fill="#FFFFFF" textLength="27.5" lengthAdjust="spacingAndGlyphs" text-rendering="geometricPrecision" stroke="#FFFFFF" stroke-width="0.1" >87.086</text><rect x="762" y="267" width="36" height="11" fill="#FF0000"/><text x="766" y="276.5" font-size="10.2" fill="#FFFFFF" textLength="27.5" lengthAdjust="spacingAndGlyphs" text-rendering="geometricPrecision" stroke="#FFFFFF" stroke-width="0.1" >86.800</text>
</g>
<g fill="none" stroke="#808080" stroke-width="1.7" stroke-linecap="butt">
<path d="M23.5 24.75 H44.5 M33.75 18.25 V40.5 M29.25 29.25 Q27 34 23.5 36.5 M38.25 29.25 L44 35.5"/>
<circle cx="41.75" cy="19.5" r="1.9" stroke-width="1.2"/>
<path d="M53.9 20.3 L57.8 22.4 M51.1 27.1 L55.5 28.9 M52.5 38.3 Q63 34 70.4 26.8 M65.5 21.5 L68.1 23.3 M67.4 19.1 L70.4 21"/>
<path d="M135 19 L128.5 23 M134.5 24.5 L128.25 31.75 M132 29 V40.5 M143 18.25 V26.5 M137.25 21.75 H149 M136 26.9 H151.5 M136 31.75 H151.5 M147 27.5 V39 L144 39.5 M138.5 34 L141.5 36.5"/>
<path d="M156 23 L171.5 22 M163.25 18.5 L160 33 Q166 28.5 172 30 Q176 32 174.5 36 Q172.5 39.5 161 39.75"/>
</g>
<path d="M19.6 24.2 C18.8 21.5 16.5 20.4 14 20.4 C10.8 20.4 8.9 22.2 8.9 24.6 C8.9 27.2 11 28.2 14.3 29.3 C18 30.5 20.1 31.8 20.1 34.6 C20.1 37 18 38.4 14.5 38.4 C11 38.4 9 37 8.3 34.6" fill="none" stroke="#808080" stroke-width="1.7"/>
<path d="M103.2 23.4 Q106 22.3 108 20.3 M108 20.1 V38.75 M114.7 38.75 V20.3 H121.8 Q126.2 20.3 126.2 25 Q126.2 29.65 121.8 29.65 H114.7 M120.1 29.9 L126.6 38.75" fill="none" stroke="#808080" stroke-width="1.7"/>

<rect x="7" y="5" width="180" height="11" fill="#F5F5DC"/>
<text x="8" y="14" font-size="10.2" fill="#000080" textLength="49" lengthAdjust="spacingAndGlyphs" text-rendering="geometricPrecision" stroke="#000080" stroke-width="0.1" >USDJPY,H4</text>
<text x="63.75" y="14" font-size="10.2" fill="#000080" textLength="121.25" lengthAdjust="spacingAndGlyphs" text-rendering="geometricPrecision" stroke="#000080" stroke-width="0.1" >87.317 87.436 87.017 87.086</text>
<text x="8" y="358.5" font-size="10.2" fill="#000080" textLength="64.5" lengthAdjust="spacingAndGlyphs" text-rendering="geometricPrecision" stroke="#000080" stroke-width="0.1" >ATR(14) 0.3578</text>
<text x="8" y="478.5" font-size="10.2" fill="#000080" textLength="69" lengthAdjust="spacingAndGlyphs" text-rendering="geometricPrecision" stroke="#000080" stroke-width="0.1" >ATR(180) 0.3452</text>
<text x="6.5" y="578" font-size="10.2" fill="#000080" textLength="243.5" lengthAdjust="spacingAndGlyphs" text-rendering="geometricPrecision" stroke="#000080" stroke-width="0.1" >MetaTrader 4, c 2001-2010 MetaQuotes Software Corp.</text>
</svg></body></html>
